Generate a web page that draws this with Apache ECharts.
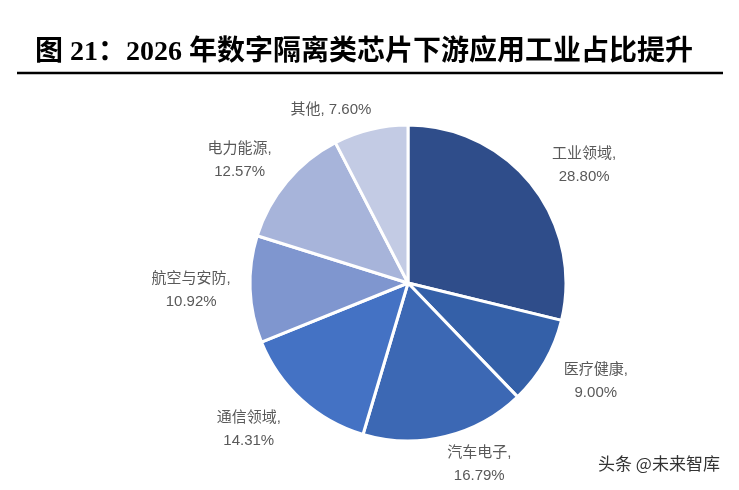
<!DOCTYPE html>
<html><head><meta charset="utf-8">
<script src="https://cdn.jsdelivr.net/npm/echarts@6/dist/echarts.min.js"></script>
<style>html,body{margin:0;padding:0;background:#fff}#c{width:739px;height:490px}</style>
</head><body><div id="c"></div>
<script>
const categories = ['工业领域','医疗健康','汽车电子','通信领域','航空与安防','电力能源','其他'];
const values = [28.80, 9.00, 16.79, 14.31, 10.92, 12.57, 7.60];
const colors = ['#2F4D8A','#3460A8','#3C68B4','#4472C4','#7F96CF','#A7B4DA','#C3CBE4'];
const titleText = '图 21：2026 年数字隔离类芯片下游应用工业占比提升';
// label placement (style only)
const lineLen1 = [33, 39, 29, 40, 25, 33, 20];
const lineLen2 = [21, 12, 22, 21, 29, 17, 30];
const singleLine = [false, false, false, false, false, false, true];

const chart = echarts.init(document.getElementById('c'));
chart.setOption({
  animation: false,
  backgroundColor: '#fff',
  title: {
    text: titleText, left: 30, top: 34,
    textStyle: {fontFamily: '"Liberation Serif","Noto Sans CJK SC",serif', fontWeight: 'bold', fontSize: 28, color: '#000'}
  },
  graphic: [
    {type: 'line', shape: {x1: 17, y1: 73, x2: 723, y2: 73}, style: {stroke: '#000', lineWidth: 2.5}},
    {type: 'text', left: 598, top: 455, style: {text: '头条 @未来智库', fontSize: 17, fill: '#333', fontFamily: '"Noto Sans CJK SC",sans-serif', shadowColor: 'rgba(0,0,0,0.4)', shadowBlur: 2}}
  ],
  series: [{
    type: 'pie',
    center: [408, 283],
    radius: [0, 158],
    startAngle: 90,
    clockwise: true,
    avoidLabelOverlap: false,
    data: categories.map((n, i) => ({
      name: n, value: values[i],
      itemStyle: {color: colors[i]},
      labelLine: {length: lineLen1[i], length2: lineLen2[i]}
    })),
    itemStyle: {borderColor: '#fff', borderWidth: 3},
    label: {
      show: true, position: 'outside',
      formatter: p => p.name + (singleLine[p.dataIndex] ? ', ' : ',\n') + p.value.toFixed(2) + '%',
      fontSize: 15, lineHeight: 23, color: '#595959',
      fontFamily: '"Liberation Sans","Noto Sans CJK SC",sans-serif'
    },
    labelLine: {show: false},
    labelLayout: () => ({align: 'center'})
  }]
});
</script></body></html>
